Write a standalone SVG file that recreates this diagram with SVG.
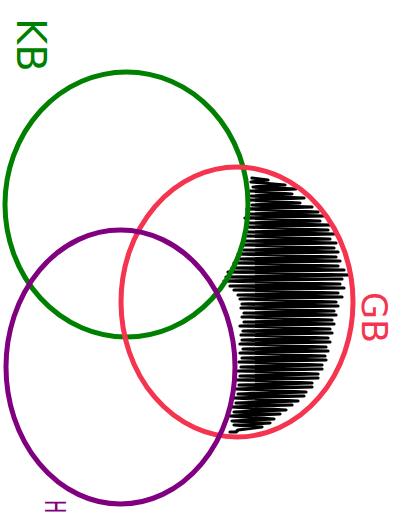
<svg xmlns="http://www.w3.org/2000/svg" width="409" height="529" viewBox="0 0 409 529">
<style>
.c{fill:none;stroke-width:5}
.lbl{font-family:"DejaVu Sans","Liberation Sans",sans-serif;font-weight:normal}
</style>
<rect width="409" height="529" fill="#ffffff"/>
<g id="scribble">
<polyline fill="none" stroke="#000000" stroke-width="3.2" stroke-linejoin="round" stroke-linecap="round" points="252,178 268,180 251,182 285,185 253,187 296,189 250,191 292,194 251,196 304,198 249,200 300,203 252,205 312,207 247,209 318,212 250,214 324,216 245,218 320,221 249,223 330,225 247,227 328,230 248,232 334,234 245,236 330,239 246,241 336,243 242,245 334,248 244,250 338,252 238,254 336,257 240,259 340,261 234,263 338,266 232,268 344,270 228,272 350,275 226,277 342,279 224,281 340,284 230,286 344,288 234,290 338,293 238,295 342,297 240,299 336,302 242,304 338,306 241,308 334,311 244,313 336,315 242,317 332,320 244,322 334,324 240,326 330,329 243,331 332,333 241,335 328,338 242,340 330,342 240,344 326,347 243,349 328,351 240,353 325,356 242,358 326,360 239,362 322,365 241,367 322,369 238,371 318,374 240,376 318,378 237,380 312,383 239,385 312,387 236,389 306,392 238,394 304,396 234,398 298,401 236,403 292,405 232,407 286,410 234,412 280,414 230,416 274,419 232,421 270,423 234,425 262,427 238,430 236,432 230,432"/>
</g>
<g id="KB">
<ellipse class="c" cx="126.5" cy="204.5" rx="121.5" ry="132.5" stroke="#008000"/>
<text class="lbl" transform="translate(17,18) rotate(90)" font-size="40" fill="#008000">KB</text>
</g>
<g id="GB">
<ellipse class="c" cx="237" cy="302" rx="116" ry="135" stroke="#f5344f"/>
<text class="lbl" transform="translate(362,292) rotate(90)" font-size="35" fill="#f5344f">GB</text>
</g>
<g id="H">
<ellipse class="c" cx="120.5" cy="367" rx="114.5" ry="137" stroke="#800080"/>
<text class="lbl" transform="translate(45,500) rotate(90) scale(0.8,1.25)" font-size="22" fill="#800080">H</text>
</g>
<g id="connectors"></g>
</svg>
